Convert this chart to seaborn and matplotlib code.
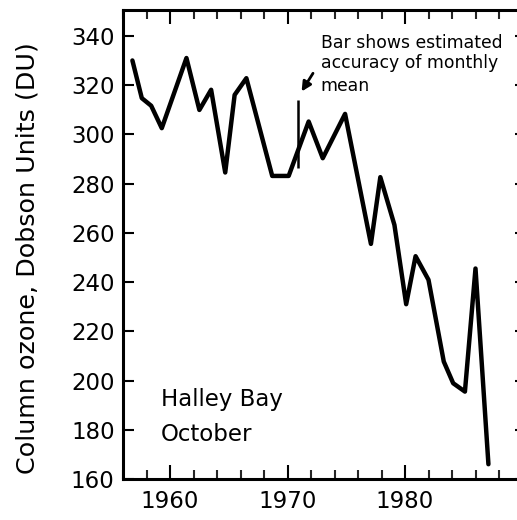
import matplotlib
matplotlib.use("Agg")
import matplotlib.pyplot as plt
from matplotlib.ticker import MultipleLocator
import seaborn as sns
import pandas as pd

# ---- data ----
years = [1956.8, 1957.6, 1958.4, 1959.3, 1961.4, 1962.5, 1963.5, 1964.7, 1965.5,
         1966.5, 1968.7, 1970.1, 1971.8, 1973.0, 1974.9, 1977.1, 1977.9, 1979.1,
         1980.1, 1980.9, 1982.0, 1983.3, 1984.1, 1985.1, 1986.0, 1987.1]
ozone = [330.0, 314.7, 311.6, 302.5, 331.0, 309.9, 318.1, 284.5, 316.0,
         322.8, 283.1, 283.1, 305.2, 290.3, 308.3, 255.5, 282.6, 263.2,
         231.0, 250.5, 240.9, 207.7, 198.9, 195.5, 245.5, 166.0]

bar_year = [1970.9]
bar_low = [286.2]
bar_high = [314.0]

xtick_major = [1960, 1970, 1980]
ytick_vals = [160, 180, 200, 220, 240, 260, 280, 300, 320, 340]

note_lines = ["Bar shows estimated", "accuracy of monthly", "mean"]
site_lines = ["Halley Bay", "October"]
ylabel = "Column ozone, Dobson Units (DU)"

sns.set_style("ticks")
plt.rcParams["font.family"] = ["DejaVu Sans"]

df = pd.DataFrame({"year": years, "ozone": ozone})

fig = plt.figure(figsize=(5.17, 5.2), dpi=100)
ax = fig.add_axes([123 / 517, 41 / 520, 399.5 / 517, 469 / 520])

sns.lineplot(data=df, x="year", y="ozone", sort=False, estimator=None,
             color="black", linewidth=3.2, ax=ax)
ax.vlines(bar_year, bar_low, bar_high, color="black", linewidth=1.8)

ax.set_xlim(1956, 1990)
ax.set_ylim(160, 350.5)

ax.set_xticks(xtick_major)
ax.xaxis.set_minor_locator(MultipleLocator(2))
ax.set_yticks(ytick_vals)

ax.tick_params(axis="x", which="major", direction="in", length=10, width=1.5,
               top=True, bottom=True, labelsize=16.5, pad=8, colors="black")
ax.tick_params(axis="x", which="minor", direction="in", length=6.5, width=1.5,
               top=True, bottom=True)
ax.tick_params(axis="y", which="major", direction="in", length=8, width=1.5,
               left=True, right=True, labelsize=16.5, pad=6, colors="black")
for t in ax.yaxis.get_major_ticks():
    t.tick2line.set_markersize(6)

for s in ax.spines.values():
    s.set_linewidth(2.2)
    s.set_color("black")
ax.spines["right"].set_visible(False)

ax.set_xlabel("")
ax.set_ylabel(ylabel, fontsize=18.3, color="black")
ax.yaxis.set_label_coords(-0.208, 0.471)

# annotation text
note_y = [335.0, 326.9, 317.6]
for t, yv in zip(note_lines, note_y):
    ax.text(1972.83, yv, t, fontsize=12.4, va="baseline", ha="left", color="black")

ax.annotate("", xy=(1971.2, 317.4), xytext=(1972.17, 324.8),
            arrowprops=dict(arrowstyle="-|>", color="black", lw=2.0,
                            mutation_scale=14, shrinkA=0, shrinkB=0))

site_y = [189.7, 175.4]
for t, yv in zip(site_lines, site_y):
    ax.text(1959.2, yv, t, fontsize=16.5, va="baseline", ha="left", color="black")

fig.savefig("out.png", dpi=100)
